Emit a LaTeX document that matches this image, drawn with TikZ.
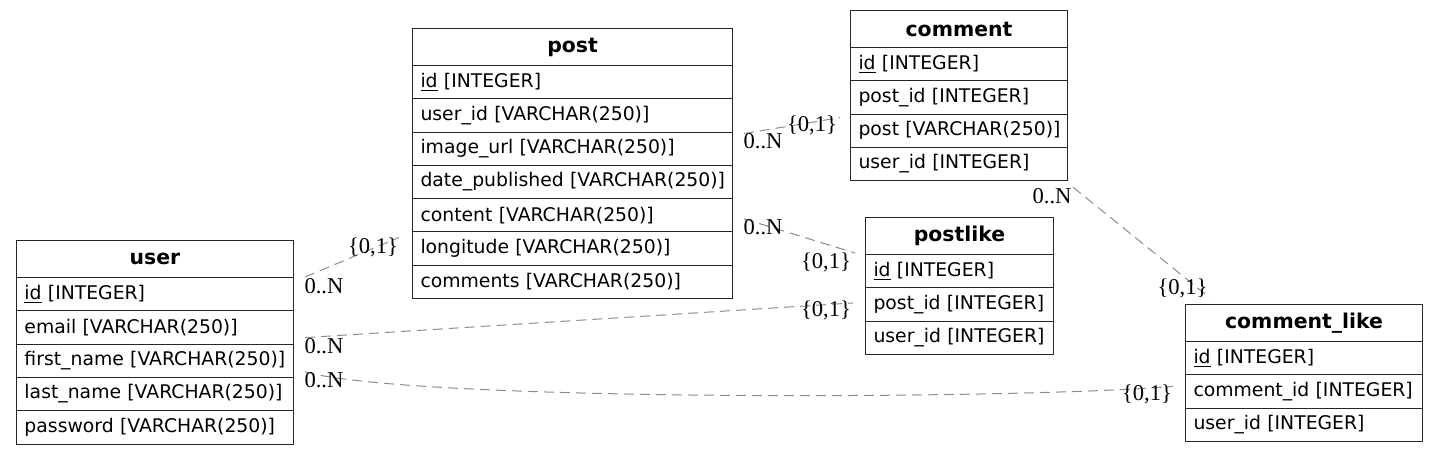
\documentclass[tikz,border=0pt]{standalone}
\usepackage{fontspec}
\setmainfont{DejaVu Sans}
\newfontfamily\cardfont{Liberation Serif}
\usetikzlibrary{positioning,calc}
\definecolor{edge}{HTML}{8C8C8C}
\tikzset{tblhead/.style={draw=black!85,line width=.5pt,anchor=north west,minimum height=18.5pt,inner xsep=4pt,align=center,font=\fontsize{10.2}{12}\selectfont\bfseries},tblrow/.style={draw=black!85,line width=.5pt,anchor=north west,minimum height=16.65pt,inner xsep=4pt,align=left,font=\fontsize{9.4}{11}\selectfont},rel/.style={draw=edge,line width=.5pt,dash pattern=on 5pt off 3pt},card/.style={font=\cardfont\fontsize{11.3}{13}\selectfont,inner sep=0pt}}
\begin{document}
\begin{tikzpicture}[x=.5pt,y=-.5pt]
\useasboundingbox (0,0) rectangle (1439,454);
% tables
\node[tblhead,text width=130.5pt] (user) at (16,240) {user};
\foreach \f [count=\i] in {{\underline{id} [INTEGER]},{email [VARCHAR(250)]},{first\_name [VARCHAR(250)]},{last\_name [VARCHAR(250)]},{password [VARCHAR(250)]}}
  \node[tblrow,text width=130.5pt] (user\i) at (16,{277+33.3*(\i-1)}) {\mbox{\f}};
\node[tblhead,text width=152pt] (post) at (412,28) {post};
\foreach \f [count=\i] in {{\underline{id} [INTEGER]},{user\_id [VARCHAR(250)]},{image\_url [VARCHAR(250)]},{date\_published [VARCHAR(250)]},{content [VARCHAR(250)]},{longitude [VARCHAR(250)]},{comments [VARCHAR(250)]}}
  \node[tblrow,text width=152pt] (post\i) at (412,{65+33.3*(\i-1)}) {\mbox{\f}};
\node[tblhead,text width=100.5pt] (comment) at (850,10) {comment};
\foreach \f [count=\i] in {{\underline{id} [INTEGER]},{post\_id [INTEGER]},{post [VARCHAR(250)]},{user\_id [INTEGER]}}
  \node[tblrow,text width=100.5pt] (comment\i) at (850,{47+33.3*(\i-1)}) {\mbox{\f}};
\node[tblhead,text width=86pt] (postlike) at (865,217) {postlike};
\foreach \f [count=\i] in {{\underline{id} [INTEGER]},{post\_id [INTEGER]},{user\_id [INTEGER]}}
  \node[tblrow,text width=86pt] (postlike\i) at (865,{254+33.3*(\i-1)}) {\mbox{\f}};
\node[tblhead,text width=110.5pt] (clike) at (1185,304) {comment\_like};
\foreach \f [count=\i] in {{\underline{id} [INTEGER]},{comment\_id [INTEGER]},{user\_id [INTEGER]}}
  \node[tblrow,text width=110.5pt] (clike\i) at (1185,{341+33.3*(\i-1)}) {\mbox{\f}};
% relations
\draw[rel] ([xshift=5.5pt,yshift=.5pt]user.south east) -- ([xshift=-6.5pt,yshift=-3pt]post6.north west)
  node[card,pos=0,xshift=9.5pt,yshift=-4.5pt] (n1) {0..N} node[card,pos=1,xshift=-13pt,yshift=-5pt] (o1) {\{0,1\}};
\draw[rel] ([xshift=5.5pt,yshift=-1pt]post3.north east) -- ([xshift=-5pt,yshift=-2pt]comment3.north west)
  node[card,pos=0,xshift=9.5pt,yshift=-4pt] (n2) {0..N} node[card,pos=1,xshift=-14pt,yshift=-4pt] (o2) {\{0,1\}};
\draw[rel] ([xshift=5.5pt,yshift=-1.75pt]post5.east) -- ([xshift=-5pt,yshift=1pt]postlike.south west)
  node[card,pos=0,xshift=9.5pt,yshift=-4pt] (n3) {0..N} node[card,pos=1,xshift=-14.5pt,yshift=-4.5pt] (o3) {\{0,1\}};
\draw[rel] ([xshift=5.5pt,yshift=3.5pt]user2.south east) -- ([xshift=-6pt,yshift=.75pt]postlike2.west)
  node[card,pos=0,xshift=9.5pt,yshift=-4.5pt] (n4) {0..N} node[card,pos=1,xshift=-13.5pt,yshift=-3.5pt] (o4) {\{0,1\}};
\draw[rel] ([xshift=5.5pt,yshift=3pt]user3.south east) .. controls +(110,30) and +(-160,13) .. ([xshift=-6pt,yshift=2.5pt]clike2.west)
  node[card,pos=0,xshift=9.5pt,yshift=-4.25pt] (n5) {0..N} node[card,pos=1,xshift=-13pt,yshift=-4pt] (o5) {\{0,1\}};
\draw[rel] ([xshift=2.5pt,yshift=-3pt]comment4.south east) -- ([xshift=12.5pt,yshift=3pt]clike.north west)
  node[card,pos=0,xshift=-10.5pt,yshift=-4.5pt] (n6) {0..N} node[card,pos=1,xshift=-13.75pt,yshift=5pt] (o6) {\{0,1\}};
\end{tikzpicture}
\end{document}
